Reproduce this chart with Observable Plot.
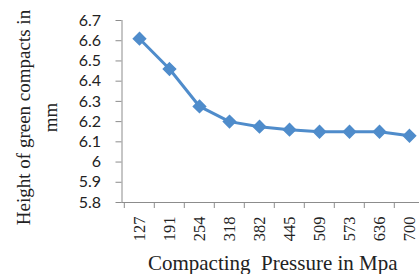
<!DOCTYPE html>
<html><head><meta charset="utf-8">
<script src="https://cdn.jsdelivr.net/npm/d3@7"></script>
<script src="https://cdn.jsdelivr.net/npm/@observablehq/plot@0.6"></script>
<style>
body{margin:0;background:#fff;}
#chart svg{display:block;}
</style>
</head><body><div id="chart"></div>
<script>
const pressures = ["127","191","254","318","382","445","509","573","636","700"];
const heights = [6.61, 6.46, 6.275, 6.20, 6.175, 6.16, 6.15, 6.15, 6.15, 6.13];
const yTicks = [5.8, 5.9, 6.0, 6.1, 6.2, 6.3, 6.4, 6.5, 6.6, 6.7];
const yTitle = "Height of green compacts in\nmm";
const xTitle = "Compacting\u00a0 Pressure in Mpa";

const data = pressures.map((p, i) => ({p, h: heights[i]}));
const blue = "#4f8ccb";
const gray = "#8c8c8c";
const tickFont = "Lato, 'Liberation Sans', sans-serif";
const titleFont = "'Liberation Serif', 'DejaVu Serif', serif";

const chart = Plot.plot({
  width: 419,
  height: 274,
  marginLeft: 121.5,
  marginRight: 0,
  marginTop: 20,
  marginBottom: 72,
  style: {background: "#fff", fontFamily: tickFont},
  x: {type: "band", domain: pressures, range: [121.5, 425.5], padding: 0},
  y: {domain: [5.8, 6.7], range: [202, 20]},
  marks: [
    Plot.axisY({ticks: yTicks, tickSize: 6, tickPadding: 15, stroke: gray, fill: "#222", fontSize: 16, tickFormat: d => String(+d.toFixed(1)), label: null}),
    Plot.axisX({tickSize: 6, stroke: gray, text: null, label: null, dx: -15.2}),
    Plot.axisX({tickSize: 0, tickPadding: 14, tickRotate: -90, fill: "#222", fontSize: 16.5, fontFamily: titleFont, label: null}),
    Plot.frame({anchor: "left", stroke: gray}),
    Plot.frame({anchor: "bottom", stroke: gray}),
    Plot.line(data, {x: "p", y: "h", stroke: blue, strokeWidth: 3}),
    Plot.dot(data, {x: "p", y: "h", symbol: "diamond2", r: 5.5, fill: blue, stroke: blue}),
    Plot.text([yTitle], {frameAnchor: "left", textAnchor: "middle", lineAnchor: "middle", dx: -87, dy: 6, rotate: -90, fontSize: 19, fontFamily: titleFont, fill: "#222", lineHeight: 1.42}),
    Plot.text([xTitle], {frameAnchor: "bottom", textAnchor: "middle", lineAnchor: "middle", dx: 2, dy: 61, fontSize: 21, fontFamily: titleFont, fill: "#222"})
  ]
});
document.getElementById("chart").append(chart);
</script>
</body></html>
